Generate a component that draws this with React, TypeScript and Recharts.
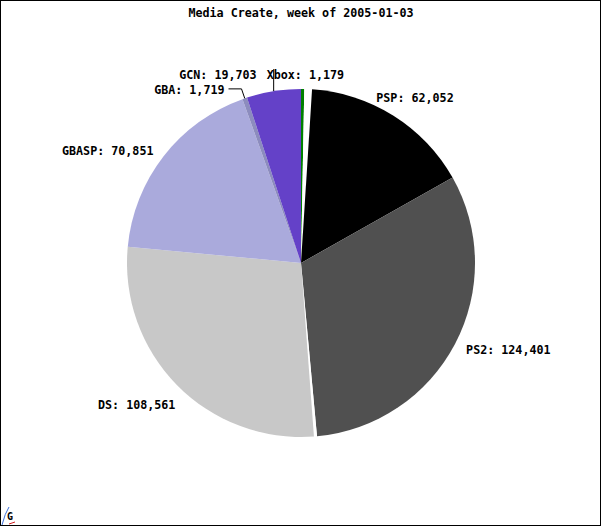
import { PieChart, Pie, Cell } from "recharts";

// clockwise from 12 o'clock; unnamed entries are the white wedges in the picture
const consoles = ["Xbox", "", "PSP", "PS2", "", "DS", "GBASP", "GBA", "GCN"];
const units = [1179, 2800, 62052, 124401, 1100, 108561, 70851, 1719, 19703];
const colors = ["#008000", "#ffffff", "#000000", "#505050", "#ffffff", "#c8c8c8", "#aaaadc", "#8c8cbe", "#6441c8"];

const data = consoles.map((name, i) => ({ name, value: units[i] }));

const FONT = "'DejaVu Sans Mono', monospace";
const RAD = Math.PI / 180;

// small hand nudges so labels sit where the original put them
const nudge: Record<string, [number, number]> = {
  Xbox: [-36, 0],
  PSP: [-22, -5],
  PS2: [3, -4],
  DS: [5, 8],
  GBASP: [-3, 5],
};

function renderLabel(props: any) {
  const { cx, cy, midAngle, outerRadius, index } = props;
  const name = consoles[index];
  if (!name) return null;
  const text = `${name}: ${units[index].toLocaleString("en-US")}`;
  const pt = (r: number) => ({
    x: cx + r * Math.cos(-midAngle * RAD),
    y: cy + r * Math.sin(-midAngle * RAD),
  });
  const style = { fontFamily: FONT, fontWeight: 700, fontSize: 11.7 };

  if (name === "GBA") {
    const rim = pt(outerRadius);
    const elbow = pt(outerRadius + 10);
    return (
      <g>
        <polyline points={`${rim.x},${rim.y} ${elbow.x},${elbow.y} ${elbow.x - 13},${elbow.y}`} fill="none" stroke="#000" strokeWidth={1} />
        <text x={elbow.x - 17} y={elbow.y + 1} textAnchor="end" dominantBaseline="central" fill="#000" style={style}>{text}</text>
      </g>
    );
  }
  if (name === "GCN") {
    const rim = pt(outerRadius);
    const top = { x: rim.x, y: rim.y - 22 };
    return (
      <g>
        <line x1={rim.x} y1={rim.y} x2={top.x} y2={top.y} stroke="#000" strokeWidth={1} />
        <text x={top.x - 17} y={top.y + 6} textAnchor="end" dominantBaseline="central" fill="#000" style={style}>{text}</text>
      </g>
    );
  }

  const tip = pt(outerRadius + 9);
  const right = tip.x >= cx;
  const below = tip.y >= cy;
  const [dx, dy] = nudge[name] || [0, 0];
  return (
    <text
      x={tip.x + dx}
      y={tip.y + (below ? 6 : -5) + dy}
      textAnchor={right ? "start" : "end"}
      dominantBaseline="central"
      fill="#000"
      style={style}
    >
      {text}
    </text>
  );
}

export default function App() {
  return (
    <div style={{ position: "absolute", left: 0, top: 0, width: 602, height: 527, background: "#fff" }}>
      <div
        style={{
          position: "absolute",
          left: 0,
          top: 0,
          width: 601,
          height: 526,
          boxSizing: "border-box",
          border: "1px solid #000",
        }}
      />
      <div
        style={{
          position: "absolute",
          left: 0,
          top: 6,
          width: 602,
          textAlign: "center",
          fontFamily: FONT,
          fontWeight: 700,
          fontSize: 11.7,
          lineHeight: "14px",
          color: "#000",
        }}
      >
        Media Create, week of 2005-01-03
      </div>
      <div style={{ position: "absolute", left: 0, top: 0 }}>
        <PieChart width={602} height={527} margin={{ top: 0, right: 0, bottom: 0, left: 0 }}>
          <Pie
            data={data}
            dataKey="value"
            nameKey="name"
            cx={301}
            cy={263}
            innerRadius={0}
            outerRadius={174}
            startAngle={90}
            endAngle={-270}
            stroke="none"
            labelLine={false}
            label={renderLabel}
            isAnimationActive={false}
          >
            {data.map((d, i) => (
              <Cell key={i} fill={colors[i]} />
            ))}
          </Pie>
        </PieChart>
      </div>
      <svg style={{ position: "absolute", left: 0, top: 505 }} width={20} height={22}>
        <path d="M2 20 Q5 8 9 2" fill="none" stroke="#3a6fd8" strokeWidth={1} />
        <line x1={9} y1={19} x2={15} y2={17} stroke="#d02020" strokeWidth={1} />
        <text x={7} y={15} fontFamily={FONT} fontWeight={700} fontSize={10} fill="#000">G</text>
      </svg>
    </div>
  );
}
